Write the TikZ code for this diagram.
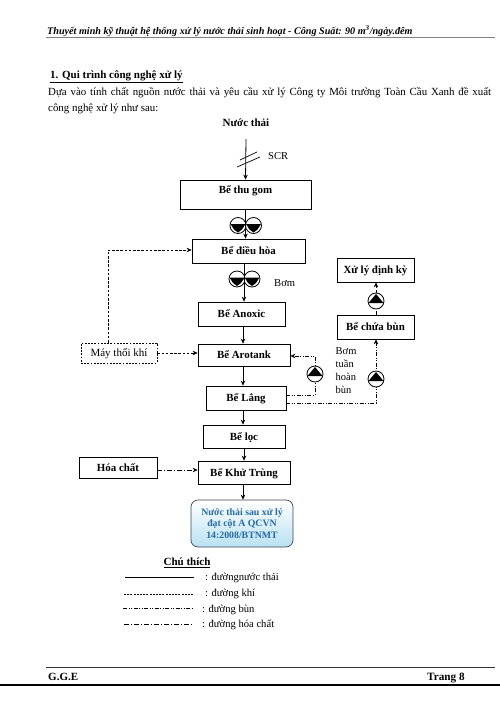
\documentclass[tikz,border=0pt]{standalone}
\usepackage{fontspec}
\setmainfont{Liberation Serif}
\usetikzlibrary{arrows.meta}
\definecolor{hblue}{RGB}{35,105,165}
\definecolor{hedge}{RGB}{60,70,80}
\definecolor{hfill}{RGB}{185,225,242}
\tikzset{
  tank/.style={draw=black,line width=.7pt,minimum width=#1,inner sep=0pt,text height=8.5pt,text depth=1.5pt,font=\bfseries\fontsize{10.9}{12}\selectfont},
  label/.style={inner sep=0pt,font=\fontsize{10.6}{12}\selectfont},
  main/.style={line width=.8pt,-{Stealth[length=5pt,width=4.5pt]}},
  air/.style={line width=.7pt,dash pattern=on 2.6pt off 1.6pt},
  airarrow/.style={air,-{Stealth[length=5pt,width=4.5pt]}},
  sludge/.style={line width=.6pt,dash pattern=on 4pt off 1.5pt on 1pt off 1.5pt on 1pt off 1.5pt},
  sludgearrow/.style={sludge,-{Stealth[length=5pt,width=4.5pt]}},
  chem/.style={line width=.7pt,dash pattern=on 5pt off 2pt on 1pt off 2pt},
  chemarrow/.style={chem,-{Stealth[length=5pt,width=4.5pt]}},
  pumpdisc/.style={circle,draw=black,fill=white,line width=.8pt,minimum size=16pt,inner sep=0pt}
}
\newcommand{\pumpdown}[2]{%
  \node[pumpdisc] at (#1,#2) {};
  \fill (#1-7.5,#2-1.5) -- (#1+7.5,#2-1.5) -- (#1+4,#2+4) -- (#1,#2+7) -- (#1-4,#2+4) -- cycle;}
\newcommand{\pumpup}[2]{%
  \node[pumpdisc] at (#1,#2) {};
  \fill (#1-7.5,#2+2) -- (#1+7.5,#2+2) -- (#1,#2-7) -- cycle;}
\begin{document}
\begin{tikzpicture}[x=1pt,y=-1pt]
\useasboundingbox (0,0) rectangle (500,706);
% header
\node[anchor=west,inner sep=0pt,font=\bfseries\itshape\fontsize{10.15}{12}\selectfont] (head) at (47,31.5) {Thuyết minh kỹ thuật hệ thống xử lý nước thải sinh hoạt - Công Suất: 90 m\textsuperscript{3}/ngày.đêm};
\coordinate (hl) at (46,38); \coordinate (hr) at (495,38);
\draw[line width=1pt,gray] (hl) -- (hr);
\node[anchor=west,inner sep=0pt,font=\bfseries\fontsize{11}{12}\selectfont] (title) at (50,77) {\underline{1. Qui trình công nghệ xử lý}};
\node[anchor=west,inner sep=0pt,font=\fontsize{10.9}{12}\selectfont] (intro) at (48,93) {\makebox[443pt][s]{Dựa vào tính chất nguồn nước thải và yêu cầu xử lý Công ty Môi trường Toàn Cầu Xanh đề xuất}};
\node[anchor=west,inner sep=0pt,font=\fontsize{10.9}{12}\selectfont] (intro2) at (48,109) {công nghệ xử lý như sau:};
% nodes
\node[inner sep=0pt,font=\bfseries\fontsize{11}{12}\selectfont] (in) at (246,122.5) {Nước thải};
\coordinate (intop) at (246,139);
\node[label,anchor=west] (scr) at (268,156) {SCR};
\node[tank=131pt,minimum height=29pt] (thu) at (245.5,194.5) {};
\node[inner sep=0pt,text height=8.5pt,text depth=1.5pt,font=\bfseries\fontsize{10.9}{12}\selectfont] (thut) at (245.5,190) {Bể thu gom};
\node[tank=113pt,minimum height=24pt] (dieu) at (248.5,251) {Bể điều hòa};
\node[tank=87pt,minimum height=24pt] (anox) at (241.5,314) {Bể Anoxic};
\node[tank=92pt,minimum height=22pt] (aro) at (244,355) {Bể Arotank};
\node[tank=80pt,minimum height=24pt] (lang) at (246,398) {Bể Lắng};
\node[tank=82pt,minimum height=23pt] (loc) at (244,436.5) {Bể lọc};
\node[tank=92pt,minimum height=23pt] (khu) at (244,472.5) {Bể Khử Trùng};
\node[tank=78pt,minimum height=21pt] (hoa) at (118,467.5) {Hóa chất};
\node[draw=black,line width=.7pt,dash pattern=on 1.8pt off 1.4pt,minimum width=76pt,minimum height=20pt,inner sep=0pt,text height=8.5pt,text depth=1.5pt,font=\fontsize{11}{12}\selectfont] (may) at (119,353) {Máy thổi khí};
\node[tank=77pt,minimum height=24pt] (xuly) at (375.5,270) {Xử lý định kỳ};
\node[tank=77pt,minimum height=24pt] (chua) at (375.5,327) {Bể chứa bùn};
\node[draw=hedge,line width=.7pt,rounded corners=7pt,top color=white,middle color=white!80!hfill,bottom color=hfill,minimum width=102pt,minimum height=47pt,inner sep=0pt,align=center,text=hblue,font=\bfseries\fontsize{9.8}{11.2}\selectfont] (out) at (242,523.5) {Nước thải sau xử lý\\đạt cột A QCVN\\14:2008/BTNMT};
% main flow
\draw[main] (intop) -- (thu.north);
\draw[line width=.7pt] (240,160) -- (257,152) (237,167) -- (260,157);
\pumpdown{238}{225.5}
\pumpdown{253.5}{225.5}
\draw[main] (thu.south) -- (dieu.north -| thu.south);
\pumpdown{237}{279}
\pumpdown{252}{279}
\draw[main] (dieu.south -| 244,0) -- (anox.north -| 244,0);
\draw[main] (anox.south -| 243,0) -- (aro.north -| 243,0);
\draw[main] (aro.south -| 243,0) -- (lang.north -| 243,0);
\draw[main] (lang.south -| 243,0) -- (loc.north -| 243,0);
\draw[main] (loc.south -| 244,0) -- (khu.north -| 244,0);
\draw[main] (khu.south -| 243,0) -- (out.north -| 243,0);
% air
\draw[airarrow] (may.east) -- (aro.west |- may.east);
\draw[airarrow] (may.north -| 108,0) -- (108,250) -- (dieu.west |- 108,250);
% sludge
\coordinate (r1) at (315,395); \coordinate (r2) at (315,356);
\draw[sludgearrow] (lang.east |- r1) -- (r1) -- (r2) -- (aro.east |- r2);
\pumpup{315}{374}
\coordinate (s1) at (376,403);
\draw[sludgearrow] (lang.east |- s1) -- (s1) -- (chua.south -| s1);
\pumpup{376}{379}
\draw[sludgearrow] (chua.north -| 376,0) -- (xuly.south -| 376,0);
\pumpup{376}{301}
\node[label,anchor=north west,align=left,font=\fontsize{10.5}{13}\selectfont] (bom2) at (335.5,347.5) {Bơm\\tuần\\hoàn\\bùn};
\node[label,anchor=west] (bom1) at (274,283) {Bơm};
% chem
\coordinate (c0) at (157,470);
\draw[chemarrow] (c0) -- (khu.west |- c0);
% legend
\node[inner sep=0pt,font=\bfseries\fontsize{11}{12}\selectfont] (chu) at (187,563) {\underline{Chú thích}};
\coordinate (a1) at (125,577); \coordinate (a2) at (194,577);
\coordinate (b1) at (124,594); \coordinate (b2) at (193,594);
\coordinate (c1) at (123,608.5); \coordinate (c2) at (192,608.5);
\coordinate (d1) at (124,624); \coordinate (d2) at (192,624);
\draw[line width=.7pt] (a1) -- (a2);
\draw[air,dash pattern=on 2pt off 1.2pt] (b1) -- (b2);
\draw[sludge] (c1) -- (c2);
\draw[chem,line width=.6pt] (d1) -- (d2);
\node[label,anchor=west] (l1) at (205,578) {: đườngnước thải};
\node[label,anchor=west] (l2) at (205,594) {: đường khí};
\node[label,anchor=west] (l3) at (202,610) {: đường bùn};
\node[label,anchor=west] (l4) at (202,625) {: đường hóa chất};
% footer
\coordinate (fl) at (46,667); \coordinate (fr) at (495,667);
\draw[line width=.7pt,black!80] (fl) -- (fr);
\node[anchor=base west,inner sep=0pt,font=\bfseries\fontsize{11}{12}\selectfont] (gge) at (48,680) {G.G.E};
\node[anchor=base west,inner sep=0pt,font=\bfseries\fontsize{11.2}{12}\selectfont] (page) at (427,680) {Trang 8};
\coordinate (bl) at (0,685); \coordinate (br) at (500,685);
\draw[line width=1.8pt] (bl) -- (br);
\end{tikzpicture}
\end{document}
